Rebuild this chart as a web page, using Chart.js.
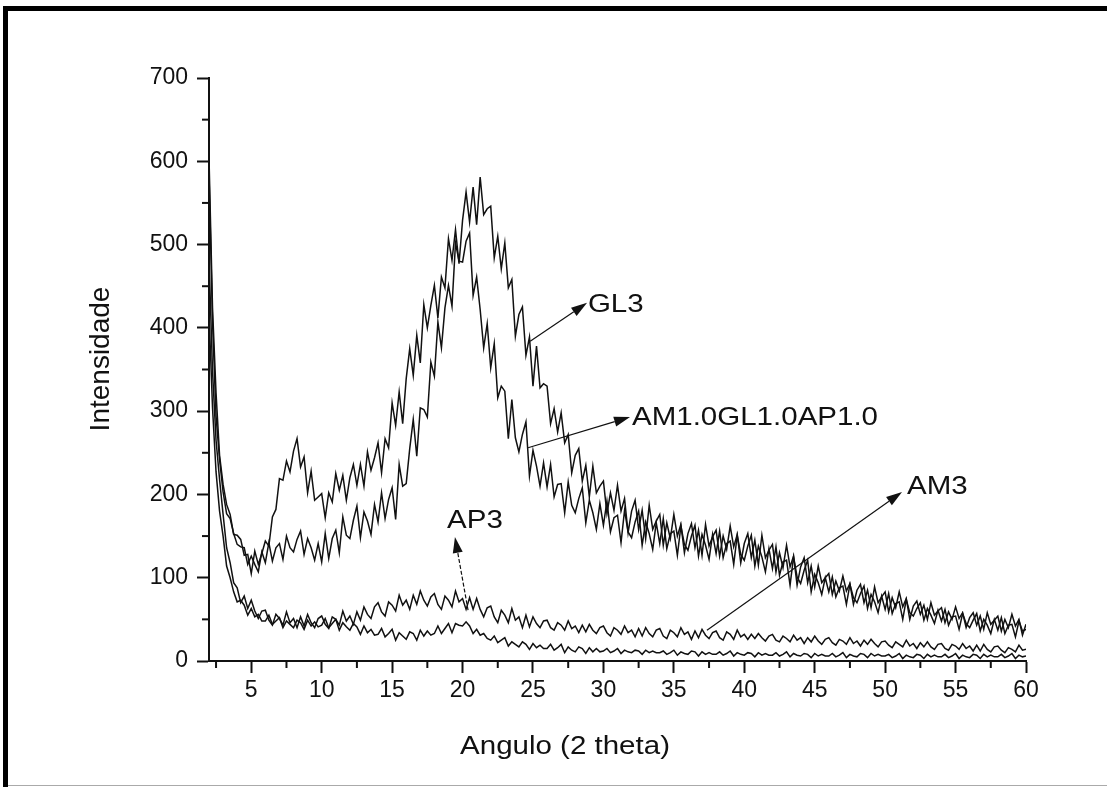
<!DOCTYPE html>
<html>
<head>
<meta charset="utf-8">
<script src="https://cdn.jsdelivr.net/npm/chart.js@4.4.1/dist/chart.umd.min.js"></script>
<style>
  body { margin: 0; background: #fff; overflow: hidden; }
  #frame { position: absolute; left: 3px; top: 6px; width: 1110px; height: 790px; border-left: 5px solid #000; border-top: 5px solid #000; }
  #baseLine { position: absolute; left: 8px; top: 785px; width: 1099px; height: 1px; background: #aaa; }
  canvas { position: absolute; left: 0; top: 0; }
</style>
</head>
<body>
<div id="frame"></div>
<div id="baseLine"></div>
<canvas id="xrd-chart" width="1107" height="787"></canvas>

<script>
// angle grid (2 theta), one row = 2 degrees
const angles = [
  2,2.25,2.5,2.75, 3,3.25,3.5,3.75,
  4,4.25,4.5,4.75, 5,5.25,5.5,5.75,
  6,6.25,6.5,6.75, 7,7.25,7.5,7.75,
  8,8.25,8.5,8.75, 9,9.25,9.5,9.75,
  10,10.25,10.5,10.75, 11,11.25,11.5,11.75,
  12,12.25,12.5,12.75, 13,13.25,13.5,13.75,
  14,14.25,14.5,14.75, 15,15.25,15.5,15.75,
  16,16.25,16.5,16.75, 17,17.25,17.5,17.75,
  18,18.25,18.5,18.75, 19,19.25,19.5,19.75,
  20,20.25,20.5,20.75, 21,21.25,21.5,21.75,
  22,22.25,22.5,22.75, 23,23.25,23.5,23.75,
  24,24.25,24.5,24.75, 25,25.25,25.5,25.75,
  26,26.25,26.5,26.75, 27,27.25,27.5,27.75,
  28,28.25,28.5,28.75, 29,29.25,29.5,29.75,
  30,30.25,30.5,30.75, 31,31.25,31.5,31.75,
  32,32.25,32.5,32.75, 33,33.25,33.5,33.75,
  34,34.25,34.5,34.75, 35,35.25,35.5,35.75,
  36,36.25,36.5,36.75, 37,37.25,37.5,37.75,
  38,38.25,38.5,38.75, 39,39.25,39.5,39.75,
  40,40.25,40.5,40.75, 41,41.25,41.5,41.75,
  42,42.25,42.5,42.75, 43,43.25,43.5,43.75,
  44,44.25,44.5,44.75, 45,45.25,45.5,45.75,
  46,46.25,46.5,46.75, 47,47.25,47.5,47.75,
  48,48.25,48.5,48.75, 49,49.25,49.5,49.75,
  50,50.25,50.5,50.75, 51,51.25,51.5,51.75,
  52,52.25,52.5,52.75, 53,53.25,53.5,53.75,
  54,54.25,54.5,54.75, 55,55.25,55.5,55.75,
  56,56.25,56.5,56.75, 57,57.25,57.5,57.75,
  58,58.25,58.5,58.75, 59,59.25,59.5,59.75,
  60
];

const gl3 = [
  605,424,322,247, 212,188,176,152,
  151,146,127,128, 105,132,116,129,
  144,138,173,182, 219,217,240,227,
  252,267,233,245, 202,228,193,197,
  201,172,202,191, 225,205,223,193,
  220,236,211,236, 210,251,229,244,
  262,226,267,256, 310,283,323,285,
  339,375,343,391, 358,428,400,427,
  451,412,461,448, 507,481,518,477,
  529,563,527,569, 524,581,536,543,
  546,484,510,471, 502,448,458,390,
  416,425,367,389, 330,378,328,333,
  330,285,303,275, 298,262,272,226,
  247,255,216,235, 197,234,202,210,
  216,177,202,181, 211,180,195,154,
  180,193,158,181, 147,187,158,168,
  176,139,166,147, 176,150,164,130,
  153,165,136,157, 127,164,138,149,
  157,126,150,134, 162,137,152,118,
  141,153,124,145, 115,151,124,133,
  140,107,130,112, 139,113,126,91,
  113,124,94,114, 89,114,94,100,
  105,80,96,84, 102,84,93,68,
  85,92,70,85, 64,89,70,77,
  83,59,76,64, 83,65,75,50,
  66,72,56,67, 50,70,55,60,
  64,46,59,50, 65,51,58,40,
  52,58,43,54, 38,58,44,49,
  54,36,50,40, 56,42,50,31,
  44
];

const am1gl1ap1 = [
  586,407,294,242, 203,177,171,153,
  140,137,136,116, 126,116,107,131,
  118,142,120,136, 141,122,150,136,
  131,146,156,128, 147,136,121,141,
  119,153,123,147, 157,130,173,151,
  147,169,186,148, 179,168,152,188,
  167,202,171,194, 208,170,236,210,
  213,255,290,246, 304,302,293,359,
  342,407,376,424, 451,426,502,480,
  479,504,514,439, 461,422,376,405,
  352,381,316,330, 324,267,314,268,
  251,272,287,222, 253,234,210,238,
  209,236,197,212, 213,178,215,187,
  178,195,208,166, 193,178,158,189,
  163,192,155,172, 175,142,181,155,
  148,167,180,139, 167,153,134,166,
  141,171,135,153, 156,127,162,140,
  133,150,163,126, 152,139,122,152,
  129,156,124,141, 144,116,151,128,
  121,138,151,114, 138,125,107,135,
  111,137,103,119, 121,91,125,101,
  93,109,121,83, 104,94,80,100,
  83,101,77,88, 90,68,92,76,
  70,81,90,63, 80,71,58,78,
  62,81,57,69, 71,50,74,58,
  54,63,70,49, 63,55,45,61,
  48,62,43,53, 54,38,57,45,
  40,49,57,36, 50,43,33,50,
  37,52,33,43, 44,29,48,36,
  38
];

const am3 = [
  484,348,265,218, 176,136,118,94,
  88,70,78,63, 73,60,51,60,
  61,49,43,56, 51,43,59,46,
  51,40,53,42, 56,46,40,51,
  54,44,39,53, 50,43,60,48,
  54,44,59,49, 65,56,51,65,
  70,59,54,71, 67,60,79,67,
  73,62,79,68, 84,73,66,77,
  81,68,62,78, 73,65,84,71,
  75,62,76,62, 75,62,53,64,
  66,53,46,61, 55,46,63,49,
  53,40,55,41, 53,45,40,48,
  49,40,37,46, 43,37,48,39,
  42,34,43,35, 44,37,33,40,
  42,34,30,40, 37,32,42,34,
  37,29,39,30, 40,33,29,37,
  39,30,27,37, 34,29,40,32,
  35,26,36,28, 38,31,27,34,
  36,28,25,35, 32,26,37,29,
  32,26,32,27, 33,28,24,30,
  32,25,23,30, 27,23,31,25,
  28,21,28,23, 30,24,20,26,
  28,22,19,26, 24,20,28,21,
  24,18,25,20, 26,21,17,23,
  24,19,16,23, 20,17,25,18,
  21,15,22,17, 23,17,14,20,
  21,15,13,20, 18,14,21,15,
  18,12,19,12, 20,14,11,17,
  18,13,10,16, 14,11,19,13,
  14
];

const ap3 = [
  418,304,227,180, 150,114,100,83,
  71,73,67,55, 63,53,56,48,
  48,55,44,48, 52,40,48,44,
  40,49,46,38, 49,42,47,41,
  43,51,40,45, 50,37,46,41,
  37,45,41,32, 42,34,38,31,
  32,39,29,33, 38,25,34,30,
  26,35,33,25, 37,30,36,31,
  33,42,33,39, 45,34,45,43,
  42,47,42,33, 38,31,33,27,
  25,30,22,25, 28,18,23,20,
  17,23,20,14, 21,16,19,15,
  15,20,13,16, 20,10,17,13,
  11,17,15,9, 16,11,15,11,
  12,15,10,12, 15,9,13,11,
  10,13,12,8, 13,10,12,10,
  10,12,8,10, 13,7,11,9,
  8,12,11,6, 11,8,10,8,
  8,11,7,9, 12,6,10,8,
  7,10,9,5, 10,7,9,7,
  7,10,6,8, 11,5,9,7,
  6,9,8,4, 9,6,8,6,
  6,9,5,7, 10,4,8,6,
  5,9,8,4, 9,6,8,6,
  6,8,4,6, 9,3,7,5,
  4,8,7,3, 8,5,7,5,
  5,8,4,6, 9,3,7,5,
  4,8,7,3, 8,5,7,5,
  5,8,4,6, 9,3,7,5,
  6
];

const xTickValues = [5, 10, 15, 20, 25, 30, 35, 40, 45, 50, 55, 60];
const xMinorValues = [2.5, 7.5, 12.5, 17.5, 22.5, 27.5, 32.5, 37.5, 42.5, 47.5, 52.5, 57.5];
const yTickValues = [0, 100, 200, 300, 400, 500, 600, 700];
const yMinorValues = [50, 150, 250, 350, 450, 550, 650];

const FONT = "'Liberation Sans', Arial, Helvetica, sans-serif";
const INK = '#111';
const WIDE = 1.18; // horizontal stretch of the original lettering

// curve names with their pointer arrows, in data coordinates
const notes = [
  { text: 'GL3', at: [28.9, 419], from: [24.8, 384], to: [28.84, 430] },
  { text: 'AM1.0GL1.0AP1.0', at: [32.03, 283], from: [24.65, 256], to: [31.89, 293] },
  { text: 'AM3', at: [51.55, 200], from: [37.35, 37], to: [51.2, 203] },
  { text: 'AP3', at: [18.9, 160], from: [20.39, 61], to: [19.46, 149], dashed: true }
];

function wideText(ctx, text, px, py, align) {
  ctx.save();
  ctx.translate(px, py);
  ctx.scale(WIDE, 1);
  ctx.textAlign = align;
  ctx.fillText(text, 0, 0);
  ctx.restore();
}

function arrow(ctx, x0, y0, x1, y1, dashed) {
  const a = Math.atan2(y1 - y0, x1 - x0);
  const len = 16, half = 5;
  const bx = x1 - len * Math.cos(a), by = y1 - len * Math.sin(a);
  ctx.save();
  ctx.lineWidth = 1.2;
  if (dashed) ctx.setLineDash([4, 2]);
  ctx.beginPath();
  ctx.moveTo(x0, y0);
  ctx.lineTo(bx, by);
  ctx.stroke();
  ctx.setLineDash([]);
  ctx.beginPath();
  ctx.moveTo(x1, y1);
  ctx.lineTo(bx + half * Math.sin(a), by - half * Math.cos(a));
  ctx.lineTo(bx - half * Math.sin(a), by + half * Math.cos(a));
  ctx.closePath();
  ctx.fill();
  ctx.restore();
}

const decorations = {
  id: 'decorations',
  afterDraw(chart) {
    const { ctx, chartArea } = chart;
    const xs = chart.scales.x, ys = chart.scales.y;
    ctx.save();
    ctx.strokeStyle = INK;
    ctx.fillStyle = INK;

    // minor ticks
    ctx.lineWidth = 2;
    xMinorValues.forEach(v => {
      const px = xs.getPixelForValue(v);
      ctx.beginPath();
      ctx.moveTo(px, chartArea.bottom);
      ctx.lineTo(px, chartArea.bottom + 7);
      ctx.stroke();
    });
    yMinorValues.forEach(v => {
      const py = ys.getPixelForValue(v);
      ctx.beginPath();
      ctx.moveTo(chartArea.left, py);
      ctx.lineTo(chartArea.left - 7, py);
      ctx.stroke();
    });

    // axis titles
    ctx.font = '25px ' + FONT;
    ctx.textBaseline = 'alphabetic';
    wideText(ctx, 'Angulo (2 theta)', 565, 754, 'center');
    ctx.save();
    ctx.translate(101, 359);
    ctx.rotate(-Math.PI / 2);
    ctx.font = '28px ' + FONT;
    ctx.textAlign = 'center';
    ctx.textBaseline = 'middle';
    ctx.fillText('Intensidade', 0, 0);
    ctx.restore();

    // curve names
    ctx.font = '25px ' + FONT;
    notes.forEach(n => {
      arrow(ctx,
        xs.getPixelForValue(n.from[0]), ys.getPixelForValue(n.from[1]),
        xs.getPixelForValue(n.to[0]), ys.getPixelForValue(n.to[1]), n.dashed);
      wideText(ctx, n.text, xs.getPixelForValue(n.at[0]), ys.getPixelForValue(n.at[1]), 'left');
    });
    ctx.restore();
  }
};

function curve(label, values) {
  return { label: label, data: values, borderColor: INK, borderWidth: 1.5, pointRadius: 0, tension: 0 };
}

new Chart(document.getElementById('xrd-chart'), {
  type: 'line',
  data: {
    labels: angles,
    datasets: [
      curve('GL3', gl3),
      curve('AM1.0GL1.0AP1.0', am1gl1ap1),
      curve('AM3', am3),
      curve('AP3', ap3)
    ]
  },
  options: {
    responsive: false,
    devicePixelRatio: 1,
    animation: false,
    layout: { padding: { left: 0, right: 81, top: 78, bottom: 0 } },
    plugins: { legend: { display: false }, tooltip: { enabled: false } },
    scales: {
      x: {
        type: 'linear',
        min: 2,
        max: 60,
        afterBuildTicks: s => { s.ticks = xTickValues.map(v => ({ value: v })); },
        afterFit: s => { s.height = 126; },
        ticks: { font: { family: FONT, size: 23 }, color: INK, padding: 4, maxRotation: 0, autoSkip: false },
        grid: { drawOnChartArea: false, tickLength: 12, tickWidth: 2, tickColor: INK },
        border: { color: INK, width: 2 }
      },
      y: {
        min: 0,
        max: 700,
        afterBuildTicks: s => { s.ticks = yTickValues.map(v => ({ value: v })); },
        afterFit: s => { s.width = 209; },
        ticks: { font: { family: FONT, size: 23 }, color: INK, padding: 9 },
        grid: { drawOnChartArea: false, tickLength: 12, tickWidth: 2, tickColor: INK },
        border: { color: INK, width: 2 }
      }
    }
  },
  plugins: [decorations]
});
</script>
</body>
</html>
